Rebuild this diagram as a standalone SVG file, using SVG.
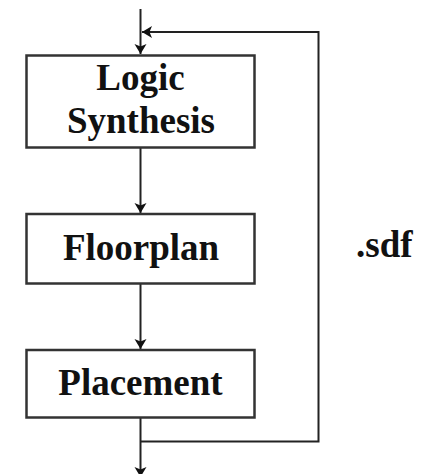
<svg xmlns="http://www.w3.org/2000/svg" width="436" height="474" viewBox="0 0 436 474">
  <style>
    .box { fill: #ffffff; stroke: #333333; stroke-width: 2.5; }
    .wire { fill: none; stroke: #222222; stroke-width: 2; }
    .label { font-family: "Liberation Serif", "Times New Roman", serif; font-weight: bold; font-size: 37px; fill: #111111; }
  </style>
  <defs>
    <marker id="head" markerUnits="userSpaceOnUse" markerWidth="14" markerHeight="14" viewBox="0 0 14 14" refX="12" refY="7" orient="auto">
      <path d="M2,1 L12,7 L2,13 L4.5,7 Z" fill="#111111"/>
    </marker>
  </defs>
  <rect width="436" height="474" fill="#ffffff"/>

  <g id="connectors">
    <line class="wire" x1="140.5" y1="9" x2="140.5" y2="54" marker-end="url(#head)"/>
    <line class="wire" x1="140.5" y1="147.5" x2="140.5" y2="213" marker-end="url(#head)"/>
    <line class="wire" x1="140.5" y1="283.5" x2="140.5" y2="349" marker-end="url(#head)"/>
    <line class="wire" x1="140.5" y1="417.5" x2="140.5" y2="477" marker-end="url(#head)"/>
    <polyline class="wire" points="140.5,441.5 318.5,441.5 318.5,32 142,32" marker-end="url(#head)"/>
  </g>

  <g id="logic-synthesis">
    <rect class="box" x="26.5" y="55.5" width="228" height="92"/>
    <text class="label" x="140.5" y="90" text-anchor="middle">Logic</text>
    <text class="label" x="141" y="133" text-anchor="middle">Synthesis</text>
  </g>

  <g id="floorplan">
    <rect class="box" x="26.5" y="214" width="228" height="69.5"/>
    <text class="label" x="141" y="260" text-anchor="middle">Floorplan</text>
  </g>

  <g id="placement">
    <rect class="box" x="26.5" y="350" width="228" height="67.5"/>
    <text class="label" x="140.5" y="395" text-anchor="middle">Placement</text>
  </g>

  <g id="sdf-label">
    <text class="label" x="356" y="256.5">.sdf</text>
  </g>
</svg>
